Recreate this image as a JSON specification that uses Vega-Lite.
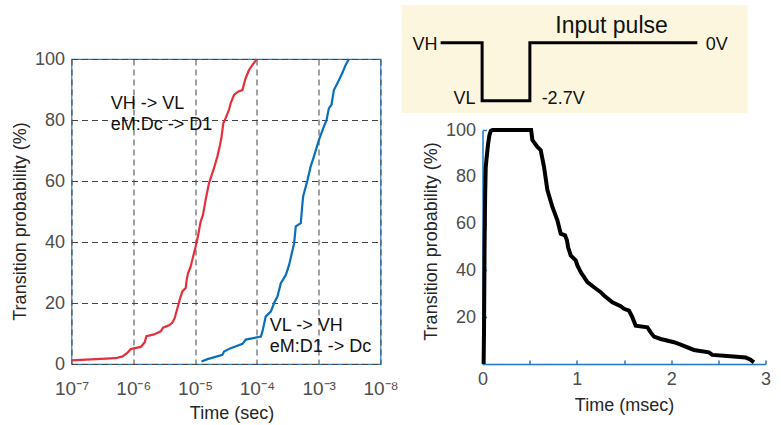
{
  "$schema": "https://vega.github.io/schema/vega-lite/v6.json",
  "padding": {"left": 10.5, "top": 5, "right": 5, "bottom": 5},
  "background": "white",
  "config": {
    "font": "Liberation Sans",
    "axis": {"labelFont": "Liberation Sans", "titleFont": "Liberation Sans", "labelFontSize": 18, "titleFontSize": 18, "labelColor": "#4d4d4d", "titleColor": "#262626", "titleFontWeight": "normal"}
  },
  "datasets": {
    "cdf": [
      {"s": "VH", "i": 1, "t": 1e-7, "p": 1.2},
      {"s": "VH", "i": 2, "t": 5.2e-7, "p": 1.9},
      {"s": "VH", "i": 3, "t": 6.7e-7, "p": 2.5},
      {"s": "VH", "i": 4, "t": 8.0e-7, "p": 3.6},
      {"s": "VH", "i": 5, "t": 9.1e-7, "p": 4.9},
      {"s": "VH", "i": 6, "t": 1.32e-6, "p": 5.6},
      {"s": "VH", "i": 7, "t": 1.53e-6, "p": 7.1},
      {"s": "VH", "i": 8, "t": 1.63e-6, "p": 9.1},
      {"s": "VH", "i": 9, "t": 2.17e-6, "p": 9.7},
      {"s": "VH", "i": 10, "t": 2.78e-6, "p": 10.7},
      {"s": "VH", "i": 11, "t": 3.03e-6, "p": 11.9},
      {"s": "VH", "i": 12, "t": 3.79e-6, "p": 12.7},
      {"s": "VH", "i": 13, "t": 4.3e-6, "p": 13.6},
      {"s": "VH", "i": 14, "t": 4.68e-6, "p": 15.1},
      {"s": "VH", "i": 15, "t": 5.17e-6, "p": 18.3},
      {"s": "VH", "i": 16, "t": 5.64e-6, "p": 21.1},
      {"s": "VH", "i": 17, "t": 6.22e-6, "p": 23.8},
      {"s": "VH", "i": 18, "t": 7.05e-6, "p": 24.9},
      {"s": "VH", "i": 19, "t": 7.31e-6, "p": 27.6},
      {"s": "VH", "i": 20, "t": 7.69e-6, "p": 29.8},
      {"s": "VH", "i": 21, "t": 8.49e-6, "p": 32.0},
      {"s": "VH", "i": 22, "t": 9.61e-6, "p": 36.4},
      {"s": "VH", "i": 23, "t": 1.02e-5, "p": 38.5},
      {"s": "VH", "i": 24, "t": 1.11e-5, "p": 41.8},
      {"s": "VH", "i": 25, "t": 1.23e-5, "p": 46.7},
      {"s": "VH", "i": 26, "t": 1.34e-5, "p": 48.9},
      {"s": "VH", "i": 27, "t": 1.48e-5, "p": 53.8},
      {"s": "VH", "i": 28, "t": 1.68e-5, "p": 59.3},
      {"s": "VH", "i": 29, "t": 2.02e-5, "p": 64.2},
      {"s": "VH", "i": 30, "t": 2.29e-5, "p": 68.0},
      {"s": "VH", "i": 31, "t": 2.53e-5, "p": 71.8},
      {"s": "VH", "i": 32, "t": 2.66e-5, "p": 74.0},
      {"s": "VH", "i": 33, "t": 2.86e-5, "p": 78.9},
      {"s": "VH", "i": 34, "t": 3.12e-5, "p": 80.6},
      {"s": "VH", "i": 35, "t": 3.53e-5, "p": 83.3},
      {"s": "VH", "i": 36, "t": 3.76e-5, "p": 85.5},
      {"s": "VH", "i": 37, "t": 4.26e-5, "p": 88.2},
      {"s": "VH", "i": 38, "t": 4.94e-5, "p": 89.3},
      {"s": "VH", "i": 39, "t": 5.81e-5, "p": 89.8},
      {"s": "VH", "i": 40, "t": 6.58e-5, "p": 93.7},
      {"s": "VH", "i": 41, "t": 7.45e-5, "p": 96.4},
      {"s": "VH", "i": 42, "t": 8.44e-5, "p": 98.0},
      {"s": "VH", "i": 43, "t": 9.55e-5, "p": 99.5},
      {"s": "VH", "i": 44, "t": 9.91e-5, "p": 100},
      {"s": "VL", "i": 1, "t": 1.27e-5, "p": 0.8},
      {"s": "VL", "i": 2, "t": 1.59e-5, "p": 1.6},
      {"s": "VL", "i": 3, "t": 2.77e-5, "p": 3.0},
      {"s": "VL", "i": 4, "t": 2.94e-5, "p": 4.1},
      {"s": "VL", "i": 5, "t": 3.78e-5, "p": 5.2},
      {"s": "VL", "i": 6, "t": 5.85e-5, "p": 6.6},
      {"s": "VL", "i": 7, "t": 6.61e-5, "p": 8.0},
      {"s": "VL", "i": 8, "t": 1.16e-4, "p": 9.0},
      {"s": "VL", "i": 9, "t": 1.23e-4, "p": 10.7},
      {"s": "VL", "i": 10, "t": 1.39e-4, "p": 15.6},
      {"s": "VL", "i": 11, "t": 1.68e-4, "p": 17.2},
      {"s": "VL", "i": 12, "t": 1.9e-4, "p": 20.0},
      {"s": "VL", "i": 13, "t": 2.15e-4, "p": 22.1},
      {"s": "VL", "i": 14, "t": 2.44e-4, "p": 26.5},
      {"s": "VL", "i": 15, "t": 2.94e-4, "p": 29.2},
      {"s": "VL", "i": 16, "t": 3.32e-4, "p": 32.5},
      {"s": "VL", "i": 17, "t": 4.0e-4, "p": 39.6},
      {"s": "VL", "i": 18, "t": 4.26e-4, "p": 45.1},
      {"s": "VL", "i": 19, "t": 5.13e-4, "p": 46.2},
      {"s": "VL", "i": 20, "t": 5.4e-4, "p": 51.6},
      {"s": "VL", "i": 21, "t": 5.6e-4, "p": 54.9},
      {"s": "VL", "i": 22, "t": 6.53e-4, "p": 60.0},
      {"s": "VL", "i": 23, "t": 7.4e-4, "p": 64.7},
      {"s": "VL", "i": 24, "t": 8.36e-4, "p": 68.0},
      {"s": "VL", "i": 25, "t": 1.01e-3, "p": 73.5},
      {"s": "VL", "i": 26, "t": 1.21e-3, "p": 77.8},
      {"s": "VL", "i": 27, "t": 1.34e-3, "p": 80.0},
      {"s": "VL", "i": 28, "t": 1.46e-3, "p": 83.8},
      {"s": "VL", "i": 29, "t": 1.61e-3, "p": 85.0},
      {"s": "VL", "i": 30, "t": 1.76e-3, "p": 89.8},
      {"s": "VL", "i": 31, "t": 2.0e-3, "p": 92.0},
      {"s": "VL", "i": 32, "t": 2.4e-3, "p": 95.3},
      {"s": "VL", "i": 33, "t": 2.72e-3, "p": 98.0},
      {"s": "VL", "i": 34, "t": 3.08e-3, "p": 100}
    ],
    "notes": [
      {"t": 4.33e-7, "p": 83.6, "label": "VH -> VL"},
      {"t": 4.33e-7, "p": 76.7, "label": "eM:Dc -> D1"},
      {"t": 1.62e-4, "p": 10.7, "label": "VL -> VH"},
      {"t": 1.62e-4, "p": 3.9, "label": "eM:D1 -> Dc"}
    ],
    "decay": [
      {"i": 1, "t": 0.012, "p": 0},
      {"i": 2, "t": 0.016, "p": 14},
      {"i": 3, "t": 0.022, "p": 50},
      {"i": 4, "t": 0.028, "p": 72},
      {"i": 5, "t": 0.034, "p": 84},
      {"i": 6, "t": 0.046, "p": 89},
      {"i": 7, "t": 0.06, "p": 94.3},
      {"i": 8, "t": 0.074, "p": 97.9},
      {"i": 9, "t": 0.088, "p": 99.6},
      {"i": 10, "t": 0.106, "p": 100},
      {"i": 11, "t": 0.515, "p": 100},
      {"i": 12, "t": 0.529, "p": 95.7},
      {"i": 13, "t": 0.582, "p": 92.8},
      {"i": 14, "t": 0.617, "p": 91.4},
      {"i": 15, "t": 0.652, "p": 84.3},
      {"i": 16, "t": 0.688, "p": 74.3},
      {"i": 17, "t": 0.741, "p": 67.1},
      {"i": 18, "t": 0.794, "p": 61.4},
      {"i": 19, "t": 0.829, "p": 55.7},
      {"i": 20, "t": 0.875, "p": 55.0},
      {"i": 21, "t": 0.895, "p": 52.9},
      {"i": 22, "t": 0.907, "p": 50.0},
      {"i": 23, "t": 0.935, "p": 46.4},
      {"i": 24, "t": 0.988, "p": 44.3},
      {"i": 25, "t": 1.006, "p": 42.1},
      {"i": 26, "t": 1.041, "p": 39.3},
      {"i": 27, "t": 1.077, "p": 37.1},
      {"i": 28, "t": 1.112, "p": 35.0},
      {"i": 29, "t": 1.182, "p": 32.8},
      {"i": 30, "t": 1.253, "p": 30.7},
      {"i": 31, "t": 1.288, "p": 29.3},
      {"i": 32, "t": 1.377, "p": 26.4},
      {"i": 33, "t": 1.465, "p": 24.7},
      {"i": 34, "t": 1.5, "p": 23.6},
      {"i": 35, "t": 1.553, "p": 22.8},
      {"i": 36, "t": 1.588, "p": 20.0},
      {"i": 37, "t": 1.624, "p": 16.4},
      {"i": 38, "t": 1.747, "p": 15.7},
      {"i": 39, "t": 1.783, "p": 13.5},
      {"i": 40, "t": 1.818, "p": 11.7},
      {"i": 41, "t": 1.888, "p": 10.7},
      {"i": 42, "t": 2.03, "p": 9.3},
      {"i": 43, "t": 2.1, "p": 8.3},
      {"i": 44, "t": 2.241, "p": 6.0},
      {"i": 45, "t": 2.4, "p": 5.0},
      {"i": 46, "t": 2.436, "p": 3.9},
      {"i": 47, "t": 2.594, "p": 3.4},
      {"i": 48, "t": 2.789, "p": 2.8},
      {"i": 49, "t": 2.842, "p": 1.8},
      {"i": 50, "t": 2.877, "p": 0.7}
    ],
    "panel": [{"u0": 0, "u1": 100, "v0": 0, "v1": 100}],
    "pulse": [
      {"i": 1, "u": 11.3, "v": 65.1},
      {"i": 2, "u": 23.3, "v": 65.1},
      {"i": 3, "u": 23.3, "v": 11.4},
      {"i": 4, "u": 37.1, "v": 11.4},
      {"i": 5, "u": 37.1, "v": 65.1},
      {"i": 6, "u": 85.5, "v": 65.1}
    ],
    "levelsRight": [
      {"u": 10.4, "v": 58.3, "label": "VH"},
      {"u": 21.4, "v": 8.3, "label": "VL"}
    ],
    "levelsLeft": [
      {"u": 40.5, "v": 8.3, "label": "-2.7V"},
      {"u": 87.9, "v": 58.3, "label": "0V"}
    ],
    "heading": [{"u": 60.7, "v": 74.1, "label": "Input pulse"}]
  },
  "bounds": "flush",
  "spacing": 102,
  "hconcat": [
    {
      "width": 309,
      "height": 305,
      "view": {"stroke": "#2c7bbf", "strokeWidth": 1.2},
      "layer": [
        {
          "data": {"name": "cdf"},
          "mark": {"type": "line", "strokeWidth": 2.2},
          "encoding": {
            "x": {
              "field": "t", "type": "quantitative", "title": "Time (sec)",
              "scale": {"type": "log", "domain": [1e-7, 0.01], "nice": false},
              "axis": {
                "values": [1e-7, 1e-6, 1e-5, 1e-4, 1e-3, 1e-2],
                "labelExpr": "datum.value < 3e-7 ? '10⁻⁷' : datum.value < 3e-6 ? '10⁻⁶' : datum.value < 3e-5 ? '10⁻⁵' : datum.value < 3e-4 ? '10⁻⁴' : datum.value < 3e-3 ? '10⁻³' : '10⁻⁸'",
                "labelFlush": false, "labelPadding": 15, "labelFontSize": 19, "ticks": false, "domain": false,
                "grid": true, "gridColor": "#444444", "gridDash": [6, 4], "gridWidth": 1,
                "titlePadding": 6, "titleX": 160
              }
            },
            "y": {
              "field": "p", "type": "quantitative", "title": "Transition probability (%)",
              "scale": {"domain": [0, 100], "nice": false},
              "axis": {
                "values": [0, 20, 40, 60, 80, 100], "labelPadding": 7, "ticks": false, "domain": false,
                "grid": true, "gridColor": "#444444", "gridDash": [6, 4], "gridWidth": 1,
                "titlePadding": 5, "titleY": 162
              }
            },
            "color": {"field": "s", "type": "nominal", "scale": {"domain": ["VH", "VL"], "range": ["#e3303c", "#0a6fba"]}, "legend": null},
            "order": {"field": "i", "type": "quantitative"}
          }
        },
        {
          "data": {"name": "notes"},
          "mark": {"type": "text", "align": "left", "baseline": "alphabetic", "fontSize": 18, "color": "#111111", "font": "Liberation Sans"},
          "encoding": {
            "x": {"field": "t", "type": "quantitative", "title": "Time (sec)"},
            "y": {"field": "p", "type": "quantitative", "title": "Transition probability (%)"},
            "text": {"field": "label", "type": "nominal"}
          }
        }
      ]
    },
    {
      "width": 283,
      "height": 305,
      "view": {"stroke": null},
      "resolve": {"scale": {"x": "independent", "y": "independent"}, "axis": {"x": "independent", "y": "independent"}},
      "layer": [
        {
          "data": {"name": "decay"},
          "mark": {"type": "line", "color": "black", "strokeWidth": 4},
          "encoding": {
            "x": {
              "field": "t", "type": "quantitative", "title": "Time (msec)",
              "scale": {"domain": [0, 3], "nice": false},
              "axis": {
                "values": [0, 0.5, 1, 1.5, 2, 2.5, 3],
                "labelExpr": "datum.value % 1 == 0 ? format(datum.value, 'd') : ''",
                "labelFlush": false, "grid": false,
                "domainColor": "#1f77c4", "domainWidth": 1.5, "tickColor": "#1f77c4", "tickWidth": 1.5, "tickSize": -4,
                "labelPadding": 10, "titlePadding": 8
              }
            },
            "y": {
              "field": "p", "type": "quantitative", "title": "Transition probability (%)",
              "scale": {"domain": [0, 100], "range": [305, 71], "nice": false},
              "axis": {
                "values": [20, 40, 60, 80, 100], "grid": false,
                "domainColor": "#1f77c4", "domainWidth": 1.5, "tickColor": "#1f77c4", "tickWidth": 1.5, "tickSize": -4,
                "labelPadding": 11, "titlePadding": 5, "titleY": 182
              }
            },
            "order": {"field": "i", "type": "quantitative"}
          }
        },
        {
          "layer": [
            {
              "data": {"name": "panel"},
              "mark": {"type": "rect", "fill": "#fcf6df"},
              "encoding": {
                "x": {"field": "u0", "type": "quantitative", "scale": {"domain": [0, 100], "range": [-81, 265], "nice": false}, "axis": null},
                "x2": {"field": "u1"},
                "y": {"field": "v0", "type": "quantitative", "scale": {"domain": [0, 100], "range": [54, -54], "nice": false}, "axis": null},
                "y2": {"field": "v1"}
              }
            },
            {
              "data": {"name": "pulse"},
              "mark": {"type": "line", "color": "black", "strokeWidth": 3},
              "encoding": {
                "x": {"field": "u", "type": "quantitative", "axis": null},
                "y": {"field": "v", "type": "quantitative", "axis": null},
                "order": {"field": "i", "type": "quantitative"}
              }
            },
            {
              "data": {"name": "levelsRight"},
              "mark": {"type": "text", "align": "right", "baseline": "alphabetic", "fontSize": 18, "color": "#111111", "font": "Liberation Sans"},
              "encoding": {
                "x": {"field": "u", "type": "quantitative", "axis": null},
                "y": {"field": "v", "type": "quantitative", "axis": null},
                "text": {"field": "label", "type": "nominal"}
              }
            },
            {
              "data": {"name": "levelsLeft"},
              "mark": {"type": "text", "align": "left", "baseline": "alphabetic", "fontSize": 18, "color": "#111111", "font": "Liberation Sans"},
              "encoding": {
                "x": {"field": "u", "type": "quantitative", "axis": null},
                "y": {"field": "v", "type": "quantitative", "axis": null},
                "text": {"field": "label", "type": "nominal"}
              }
            },
            {
              "data": {"name": "heading"},
              "mark": {"type": "text", "align": "center", "baseline": "alphabetic", "fontSize": 23, "color": "#111111", "font": "Liberation Sans"},
              "encoding": {
                "x": {"field": "u", "type": "quantitative", "axis": null},
                "y": {"field": "v", "type": "quantitative", "axis": null},
                "text": {"field": "label", "type": "nominal"}
              }
            }
          ]
        }
      ]
    }
  ]
}
